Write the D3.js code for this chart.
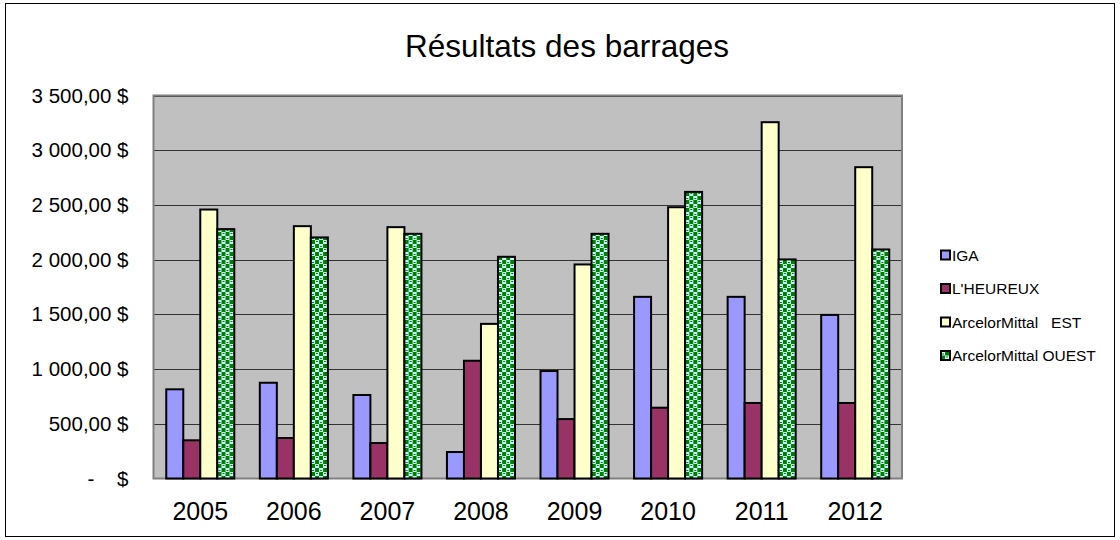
<!DOCTYPE html>
<html>
    <head>
        <meta charset="utf-8">
        <title>Résultats des barrages</title>
        <style>
            body, html {
              margin: 0;
              padding: 0;
              background: #fff;
            }
            text {
              font-family: "Liberation Sans", Arial, sans-serif;
              white-space: pre;
            }
        </style>
    </head>
    <body>

        <svg id="svg" width="1120" height="540"></svg>

        <script src="https://d3js.org/d3.v7.min.js"></script>
        <script>
            const years = ['2005', '2006', '2007', '2008', '2009', '2010', '2011', '2012']
            const seriesNames = ['IGA', "L'HEUREUX", 'ArcelorMittal   EST', 'ArcelorMittal OUEST']
            const iga = [815, 875, 763, 242, 982, 1660, 1660, 1495]
            const heureux = [349, 370, 324, 1076, 543, 647, 690, 690]
            const arcelorEst = [2458, 2306, 2297, 1413, 1956, 2479, 3256, 2845]
            const arcelorOuest = [2279, 2203, 2236, 2026, 2236, 2619, 2002, 2093]
            const yTicks = [0, 500, 1000, 1500, 2000, 2500, 3000, 3500]
            const yTickLabels = ['-    $', '500,00 $', '1 000,00 $', '1 500,00 $', '2 000,00 $', '2 500,00 $', '3 000,00 $', '3 500,00 $']

            const allSeries = [iga, heureux, arcelorEst, arcelorOuest]
            const fills = ['#9999ff', '#993366', '#ffffcc', 'url(#checker)']

            const plot = { left: 153.5, right: 902, top: 95.5, bottom: 478.5 }

            const svg = d3.select('#svg')

            // checker pattern for the last series
            const pat = svg.append('defs').append('pattern')
                .attr('id', 'checker')
                .attr('width', 8).attr('height', 8)
                .attr('patternUnits', 'userSpaceOnUse')
            pat.append('rect').attr('width', 8).attr('height', 8).attr('fill', '#ccffff')
            pat.append('rect').attr('x', 0).attr('y', 0).attr('width', 4).attr('height', 4).attr('fill', '#008000')
            pat.append('rect').attr('x', 4).attr('y', 4).attr('width', 4).attr('height', 4).attr('fill', '#008000')
            pat.append('rect').attr('x', 5).attr('y', 1).attr('width', 2).attr('height', 1).attr('fill', '#008000')
            pat.append('rect').attr('x', 1).attr('y', 6).attr('width', 2).attr('height', 1).attr('fill', '#008000')

            // outer chart border
            svg.append('rect')
                .attr('x', 5.5).attr('y', 3.5)
                .attr('width', 1109).attr('height', 533)
                .attr('fill', 'none')
                .attr('stroke', '#000')

            // title
            svg.append('text')
                .attr('x', 567).attr('y', 57)
                .attr('text-anchor', 'middle')
                .attr('font-size', 31.5)
                .text('Résultats des barrages')

            // scales
            const x0 = d3.scaleBand()
                .domain(years)
                .range([plot.left, plot.right])
                .padding(0)

            const gap = x0.bandwidth() * 1.5 / 5.5
            const x1 = d3.scaleBand()
                .domain(d3.range(seriesNames.length))
                .range([gap / 2, x0.bandwidth() - gap / 2])
                .padding(0)

            const yscale = d3.scaleLinear()
                .domain([0, 3500])
                .range([plot.bottom, plot.top])

            // plot area
            svg.append('rect')
                .attr('x', plot.left).attr('y', plot.top)
                .attr('width', plot.right - plot.left)
                .attr('height', plot.bottom - plot.top)
                .attr('fill', '#c0c0c0')

            // gridlines
            svg.append('g')
                .selectAll('line')
                .data(yTicks.slice(1))
                .enter()
                .append('line')
                .attr('x1', plot.left).attr('x2', plot.right)
                .attr('y1', d => Math.round(yscale(d)) + 0.5)
                .attr('y2', d => Math.round(yscale(d)) + 0.5)
                .attr('stroke', '#333')
                .attr('stroke-width', 1)

            svg.append('rect')
                .attr('x', plot.left).attr('y', plot.top)
                .attr('width', plot.right - plot.left)
                .attr('height', plot.bottom - plot.top)
                .attr('fill', 'none')
                .attr('stroke', '#808080')
                .attr('stroke-width', 2)

            // bars
            const groups = svg.append('g')
                .selectAll('g')
                .data(years)
                .enter()
                .append('g')
                .attr('transform', d => `translate(${x0(d)}, 0)`)

            groups.selectAll('rect')
                .data((d, i) => allSeries.map((s, k) => ({ k: k, v: s[i] })))
                .enter()
                .append('rect')
                .attr('x', d => x1(d.k))
                .attr('y', d => yscale(d.v))
                .attr('width', x1.bandwidth())
                .attr('height', d => yscale(0) - yscale(d.v))
                .attr('fill', d => fills[d.k])
                .attr('stroke', '#000')
                .attr('stroke-width', 2)

            // left axis
            const leftAxis = d3.axisLeft(yscale)
                .tickValues(yTicks)
                .tickFormat((d, i) => yTickLabels[i])
                .tickSize(0)
                .tickPadding(25)
            const ga = svg.append('g')
                .attr('transform', `translate(${plot.left}, 0)`)
                .call(leftAxis)
            ga.select('.domain').remove()
            ga.selectAll('text')
                .attr('font-size', 20.5)
                .attr('font-family', '"Liberation Sans", Arial, sans-serif')
                .attr('fill', '#000')

            // bottom axis
            const bottomAxis = d3.axisBottom(x0).tickSize(0).tickPadding(24)
            const gb = svg.append('g')
                .attr('transform', `translate(0, ${plot.bottom})`)
                .call(bottomAxis)
            gb.select('.domain').remove()
            gb.selectAll('text')
                .attr('font-size', 25)
                .attr('font-family', '"Liberation Sans", Arial, sans-serif')
                .attr('fill', '#000')

            // legend
            const legend = svg.append('g')
                .selectAll('g')
                .data(seriesNames)
                .enter()
                .append('g')
                .attr('transform', (d, i) => `translate(941, ${255 + i * 33.5})`)
            legend.append('rect')
                .attr('x', 0).attr('y', -4.5)
                .attr('width', 9).attr('height', 9)
                .attr('fill', (d, i) => fills[i])
                .attr('stroke', '#000')
                .attr('stroke-width', 2)
            legend.append('text')
                .attr('x', 11).attr('y', 5.5)
                .attr('font-size', 15.5)
                .text(d => d)
        </script>
    </body>
</html>
